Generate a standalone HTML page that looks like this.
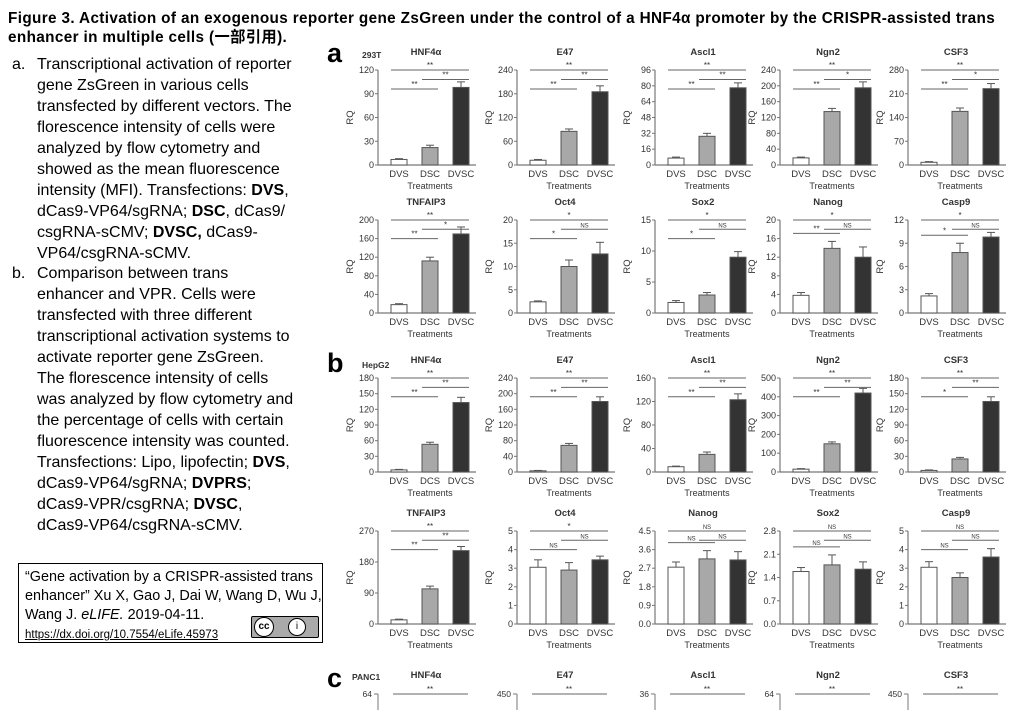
<!DOCTYPE html>
<html><head><meta charset="utf-8">
<style>
body{margin:0;width:1016px;height:710px;overflow:hidden;background:#fff;font-family:"Liberation Sans","Noto Sans CJK SC",sans-serif;position:relative;color:#000}
#title{position:absolute;left:8px;top:9px;font-weight:bold;font-size:15.3px;line-height:19px;width:1005px;white-space:nowrap;letter-spacing:0.36px}
.li{position:absolute;left:12px;font-size:16px;line-height:21px;white-space:nowrap}
.li span.m{position:absolute;left:0}
.li div{margin-left:25px}
#cite{position:absolute;left:18px;top:563px;width:305px;height:80px;border:1px solid #000;font-size:14.4px;line-height:19px;padding:4px 0 0 6px;box-sizing:border-box}
#cite a{font-size:11.5px;color:#000;text-decoration:underline}
svg{position:absolute;left:0;top:0}
</style></head><body>
<div id="title">Figure 3. Activation of an exogenous reporter gene ZsGreen under the control of a HNF4α promoter by the CRISPR-assisted trans<br>enhancer in multiple cells (一部引用).</div>
<div class="li" style="top:54px"><span class="m">a.</span><div>Transcriptional activation of reporter<br>gene ZsGreen in various cells<br>transfected by different vectors. The<br>florescence intensity of cells were<br>analyzed by flow cytometry and<br>showed as the mean fluorescence<br>intensity (MFI). Transfections: <b>DVS</b>,<br>dCas9-VP64/sgRNA; <b>DSC</b>, dCas9/<br>csgRNA-sCMV; <b>DVSC,</b> dCas9-<br>VP64/csgRNA-sCMV.</div></div>
<div class="li" style="top:263px"><span class="m">b.</span><div>Comparison between trans<br>enhancer and VPR. Cells were<br>transfected with three different<br>transcriptional activation systems to<br>activate reporter gene ZsGreen.<br>The florescence intensity of cells<br>was analyzed by flow cytometry and<br>the percentage of cells with certain<br>fluorescence intensity was counted.<br>Transfections: Lipo, lipofectin; <b>DVS</b>,<br>dCas9-VP64/sgRNA; <b>DVPRS</b>;<br>dCas9-VPR/csgRNA; <b>DVSC</b>,<br>dCas9-VP64/csgRNA-sCMV.</div></div>
<div id="cite">“Gene activation by a CRISPR-assisted trans enhancer” Xu X, Gao J, Dai W, Wang D, Wu J, Wang J. <i>eLIFE.</i> 2019-04-11.<br><a>https://dx.doi.org/10.7554/eLife.45973</a>
<span style="position:absolute;left:232px;top:52px;width:66px;height:20px;background:#aaa;border:1px solid #000;border-radius:2px;font-size:10px;line-height:20px;"><span style="display:inline-block;width:18px;height:18px;border-radius:50%;background:#fff;border:1px solid #000;text-align:center;line-height:18px;font-weight:bold;margin-left:2px">cc</span><span style="display:inline-block;width:16px;height:16px;border-radius:50%;background:#fff;border:1px solid #000;text-align:center;line-height:16px;margin-left:14px">i</span></span></div>
<svg id="chart" width="1016" height="710"></svg>
<script>
const rowA1Genes=["HNF4α","E47","Ascl1","Ngn2","CSF3"];
const rowA1Max=[120,240,96,240,280];
const rowA1Step=[30,60,16,40,70];
const rowA1Values=[[7,22,98],[12,85,185],[7,29,78],[18,135,195],[8,158,225]];
const rowA1Errors=[[1,3,7],[2,6,15],[1,3,5],[2,8,15],[2,10,15]];
const rowA1Sig=[["**","**","**"],["**","**","**"],["**","**","**"],["**","*","**"],["**","*","**"]];
const rowA2Genes=["TNFAIP3","Oct4","Sox2","Nanog","Casp9"];
const rowA2Max=[200,20,15,20,12];
const rowA2Step=[40,5,5,4,3];
const rowA2Values=[[18,112,170],[2.4,10,12.7],[1.7,2.9,9],[3.8,13.9,12],[2.2,7.8,9.8]];
const rowA2Errors=[[2,8,15],[0.2,1.4,2.5],[0.3,0.4,0.9],[0.6,1.5,2.2],[0.3,1.2,0.6]];
const rowA2Sig=[["**","*","**"],["*","NS","*"],["*","NS","*"],["**","NS","*"],["*","NS","*"]];
const rowB1Genes=["HNF4α","E47","Ascl1","Ngn2","CSF3"];
const rowB1Max=[180,240,160,500,180];
const rowB1Step=[30,40,40,100,30];
const rowB1Values=[[4,53,133],[3,68,180],[9,30,123],[15,150,420],[3,25,135]];
const rowB1Errors=[[1,4,10],[1,5,12],[1,4,10],[3,10,25],[1,3,9]];
const rowB1Sig=[["**","**","**"],["**","**","**"],["**","**","**"],["**","**","**"],["*","**","**"]];
const rowB2Genes=["TNFAIP3","Oct4","Nanog","Sox2","Casp9"];
const rowB2Max=[270,5,4.5,2.8,5];
const rowB2Step=[90,1,0.9,0.7,1];
const rowB2Values=[[12,102,213],[3.05,2.9,3.45],[2.75,3.15,3.1],[1.58,1.78,1.65],[3.05,2.5,3.6]];
const rowB2Errors=[[2,8,12],[0.4,0.4,0.2],[0.25,0.4,0.4],[0.12,0.3,0.22],[0.3,0.25,0.45]];
const rowB2Sig=[["**","**","**"],["NS","NS","*"],["NS","NS","NS"],["NS","NS","NS"],["NS","NS","NS"]];
const rowCGenes=["HNF4α","E47","Ascl1","Ngn2","CSF3"];
const rowCTop=["64","450","36","64","450"];
const treatments=["DVS","DSC","DVSC"];
const treatmentsHepHNF=["DVS","DCS","DVCS"];

const svg=document.getElementById('chart');
const NS='http://www.w3.org/2000/svg';
const colX=[378,517,655,780,908];
const fills=["#fff","#a8a8a8","#333"];
function mk(tag,attrs,parent){const e=document.createElementNS(NS,tag);for(const k in attrs)e.setAttribute(k,attrs[k]);(parent||svg).appendChild(e);return e;}
function txt(x,y,s,size,anchor,weight,parent){const t=mk('text',{x:x,y:y,'font-size':size,'text-anchor':anchor||'middle','font-family':'Liberation Sans, sans-serif','font-weight':weight||'normal',fill:'#333'},parent);t.textContent=s;return t;}
function fmt(v,step){return step<1?v.toFixed(1):String(Math.round(v));}
function panel(i,top,bottom,gene,max,step,vals,errs,sig,labels){
  const g=mk('g',{});
  
  
  const x0=colX[i];const W=98;
  const y=v=>bottom-(v/max)*(bottom-top);
  const bx=k=>x0+21+k*31;
  const t=txt(x0+48,top-15,gene,9.5,'middle','bold',g);
  
  
  mk('line',{x1:x0,y1:top,x2:x0,y2:bottom,stroke:'#777','stroke-width':1.2},g);
  mk('line',{x1:x0,y1:bottom,x2:x0+W,y2:bottom,stroke:'#777','stroke-width':1.2},g);
  const n=Math.round(max/step);
  for(let k=0;k<=n;k++){const v=k*step;const yy=y(v);
    mk('line',{x1:x0-3,y1:yy,x2:x0,y2:yy,stroke:'#777'},g);
    txt(x0-4,yy+3,fmt(v,step),9,'end','normal',g);}
  const yl=txt(0,0,'RQ',9.5,'middle','normal',g);
  yl.setAttribute('transform','translate('+(x0-25)+','+((top+bottom)/2)+') rotate(-90)');
  
  
  for(let k=0;k<3;k++){
    const c=bx(k);
    const r=mk('rect',{x:c-8,y:y(vals[k]),width:16,height:bottom-y(vals[k]),fill:fills[k],stroke:'#555','stroke-width':1},g);
    
    
    const ye=y(vals[k]+errs[k]);
    mk('line',{x1:c,y1:y(vals[k]),x2:c,y2:ye,stroke:'#555'},g);
    mk('line',{x1:c-4,y1:ye,x2:c+4,y2:ye,stroke:'#555'},g);
    txt(c,bottom+12,labels[k],9.5,'middle','normal',g);
  }
  txt(x0+52,bottom+24,'Treatments',9,'middle','normal',g);
  const h=bottom-top;
  const y01=Math.min(y(Math.max(vals[0]+errs[0],vals[1]+errs[1]))-8,top+0.2*h);
  const lines=[[0,1,y01,sig[0]],[1,2,top+0.1*h,sig[1]],[0,2,top,sig[2]]];
  lines.forEach(L=>{const a=bx(L[0])-8,b=bx(L[1])+8;
    mk('line',{x1:a,y1:L[2],x2:b,y2:L[2],stroke:'#666'},g);
    txt((a+b)/2,L[2]-2,L[3],L[3]==='NS'?6:8,'middle','normal',g);});
}
function row(top,bottom,genes,maxs,steps,vals,errs,sigs,labelsFn){
  for(let i=0;i<5;i++)panel(i,top,bottom,genes[i],maxs[i],steps[i],vals[i],errs[i],sigs[i],labelsFn(i));
}
row(70,165,rowA1Genes,rowA1Max,rowA1Step,rowA1Values,rowA1Errors,rowA1Sig,()=>treatments);
row(220,313,rowA2Genes,rowA2Max,rowA2Step,rowA2Values,rowA2Errors,rowA2Sig,()=>treatments);
row(378,472,rowB1Genes,rowB1Max,rowB1Step,rowB1Values,rowB1Errors,rowB1Sig,i=>i===0?treatmentsHepHNF:treatments);
row(531,624,rowB2Genes,rowB2Max,rowB2Step,rowB2Values,rowB2Errors,rowB2Sig,()=>treatments);
[["a",62,"293T",58],["b",372,"HepG2",368],["c",687,"PANC1",680]].forEach(p=>{
  const l=txt(327,p[1],p[0],27,'start','bold');
  l.setAttribute('fill','#000');
  
  
  const c=txt(p[0]==='c'?352:362,p[3],p[2],8.5,'start','bold');
  
  
});
for(let i=0;i<5;i++){
  const x0=colX[i];
  const t=txt(x0+48,678,rowCGenes[i],9.5,'middle','bold');
  
  
  txt(x0-6,697,rowCTop[i],8.5,'end');
  mk('line',{x1:x0-4,y1:694,x2:x0,y2:694,stroke:'#777'});
  mk('line',{x1:x0,y1:694,x2:x0,y2:710,stroke:'#777'});
  mk('line',{x1:x0+15,y1:694,x2:x0+90,y2:694,stroke:'#666'});
  txt(x0+52,692,'**',8);
}
</script>
</body></html>
